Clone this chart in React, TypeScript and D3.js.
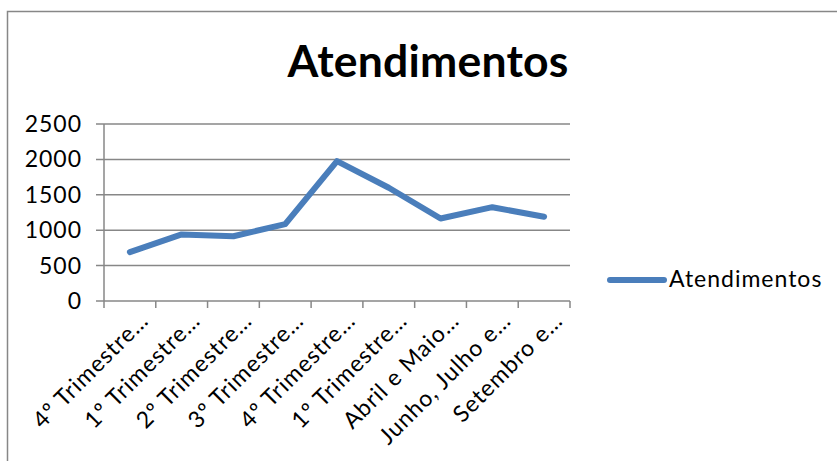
import React from "react";
import * as d3 from "d3";

const categories = [
  "4º Trimestre…",
  "1º Trimestre…",
  "2º Trimestre…",
  "3º Trimestre…",
  "4º Trimestre…",
  "1º Trimestre…",
  "Abril e Maio…",
  "Junho, Julho e…",
  "Setembro e…",
];
const atendimentos = [690, 940, 915, 1085, 1975, 1600, 1165, 1325, 1190];
const yTicks = [0, 500, 1000, 1500, 2000, 2500];
const seriesName = "Atendimentos";
const title = "Atendimentos";

const W = 837;
const H = 461;
const plot = { left: 104, right: 570, top: 124, bottom: 301 };
const FONT = "Lato, 'Open Sans', sans-serif";
const GRID = "#878787";
const BLUE = "#4A7EBB";

export default function App() {
  const x = d3
    .scaleBand<string>()
    .domain(categories.map((_, i) => String(i)))
    .range([plot.left, plot.right]);
  const y = d3.scaleLinear().domain([0, 2500]).range([plot.bottom, plot.top]);
  const cx = (i: number) => (x(String(i)) as number) + x.bandwidth() / 2;
  const line = d3
    .line<number>()
    .x((_, i) => cx(i))
    .y((d) => y(d));
  const boundaries = d3.range(categories.length + 1).map(
    (i) => plot.left + i * x.step()
  );

  return (
    <svg
      width={W}
      height={H}
      style={{ position: "absolute", left: 0, top: 0, background: "#fff" }}
    >
      <rect x={0} y={0} width={W} height={H} fill="#fff" />
      <rect
        x={7.5}
        y={11.5}
        width={W + 20}
        height={H + 20}
        fill="none"
        stroke={GRID}
        strokeWidth={1.5}
      />
      <text
        x={428}
        y={77}
        textAnchor="middle"
        fontFamily={FONT}
        fontWeight={700}
        fontSize={44.5}
        letterSpacing={0.2}
        fill="#000"
      >
        {title}
      </text>
      {yTicks.map((t) => (
        <g key={t}>
          <line
            x1={plot.left - 8}
            x2={plot.right}
            y1={y(t)}
            y2={y(t)}
            stroke={GRID}
            strokeWidth={1.5}
          />
          <text
            x={82}
            y={y(t) + 8}
            textAnchor="end"
            fontFamily={FONT}
            fontSize={23}
            letterSpacing={1}
            fill="#000"
          >
            {t}
          </text>
        </g>
      ))}
      <line
        x1={plot.left}
        x2={plot.left}
        y1={plot.top}
        y2={plot.bottom}
        stroke={GRID}
        strokeWidth={1.5}
      />
      {boundaries.map((bx, i) => (
        <line
          key={i}
          x1={bx}
          x2={bx}
          y1={plot.bottom}
          y2={plot.bottom + 7}
          stroke={GRID}
          strokeWidth={1.5}
        />
      ))}
      {categories.map((c, i) => (
        <text
          key={i}
          transform={`translate(${cx(i) + 20},${plot.bottom + 21}) rotate(-45)`}
          textAnchor="end"
          fontFamily={FONT}
          fontSize={23}
          letterSpacing={1}
          fill="#000"
        >
          {c}
        </text>
      ))}
      <path
        d={line(atendimentos) || ""}
        fill="none"
        stroke={BLUE}
        strokeWidth={6}
        strokeLinejoin="round"
        strokeLinecap="round"
      />
      <line
        x1={610}
        x2={664}
        y1={280}
        y2={280}
        stroke={BLUE}
        strokeWidth={6}
        strokeLinecap="round"
      />
      <text
        x={669}
        y={287}
        fontFamily={FONT}
        fontSize={23}
        letterSpacing={1}
        fill="#000"
      >
        {seriesName}
      </text>
    </svg>
  );
}
